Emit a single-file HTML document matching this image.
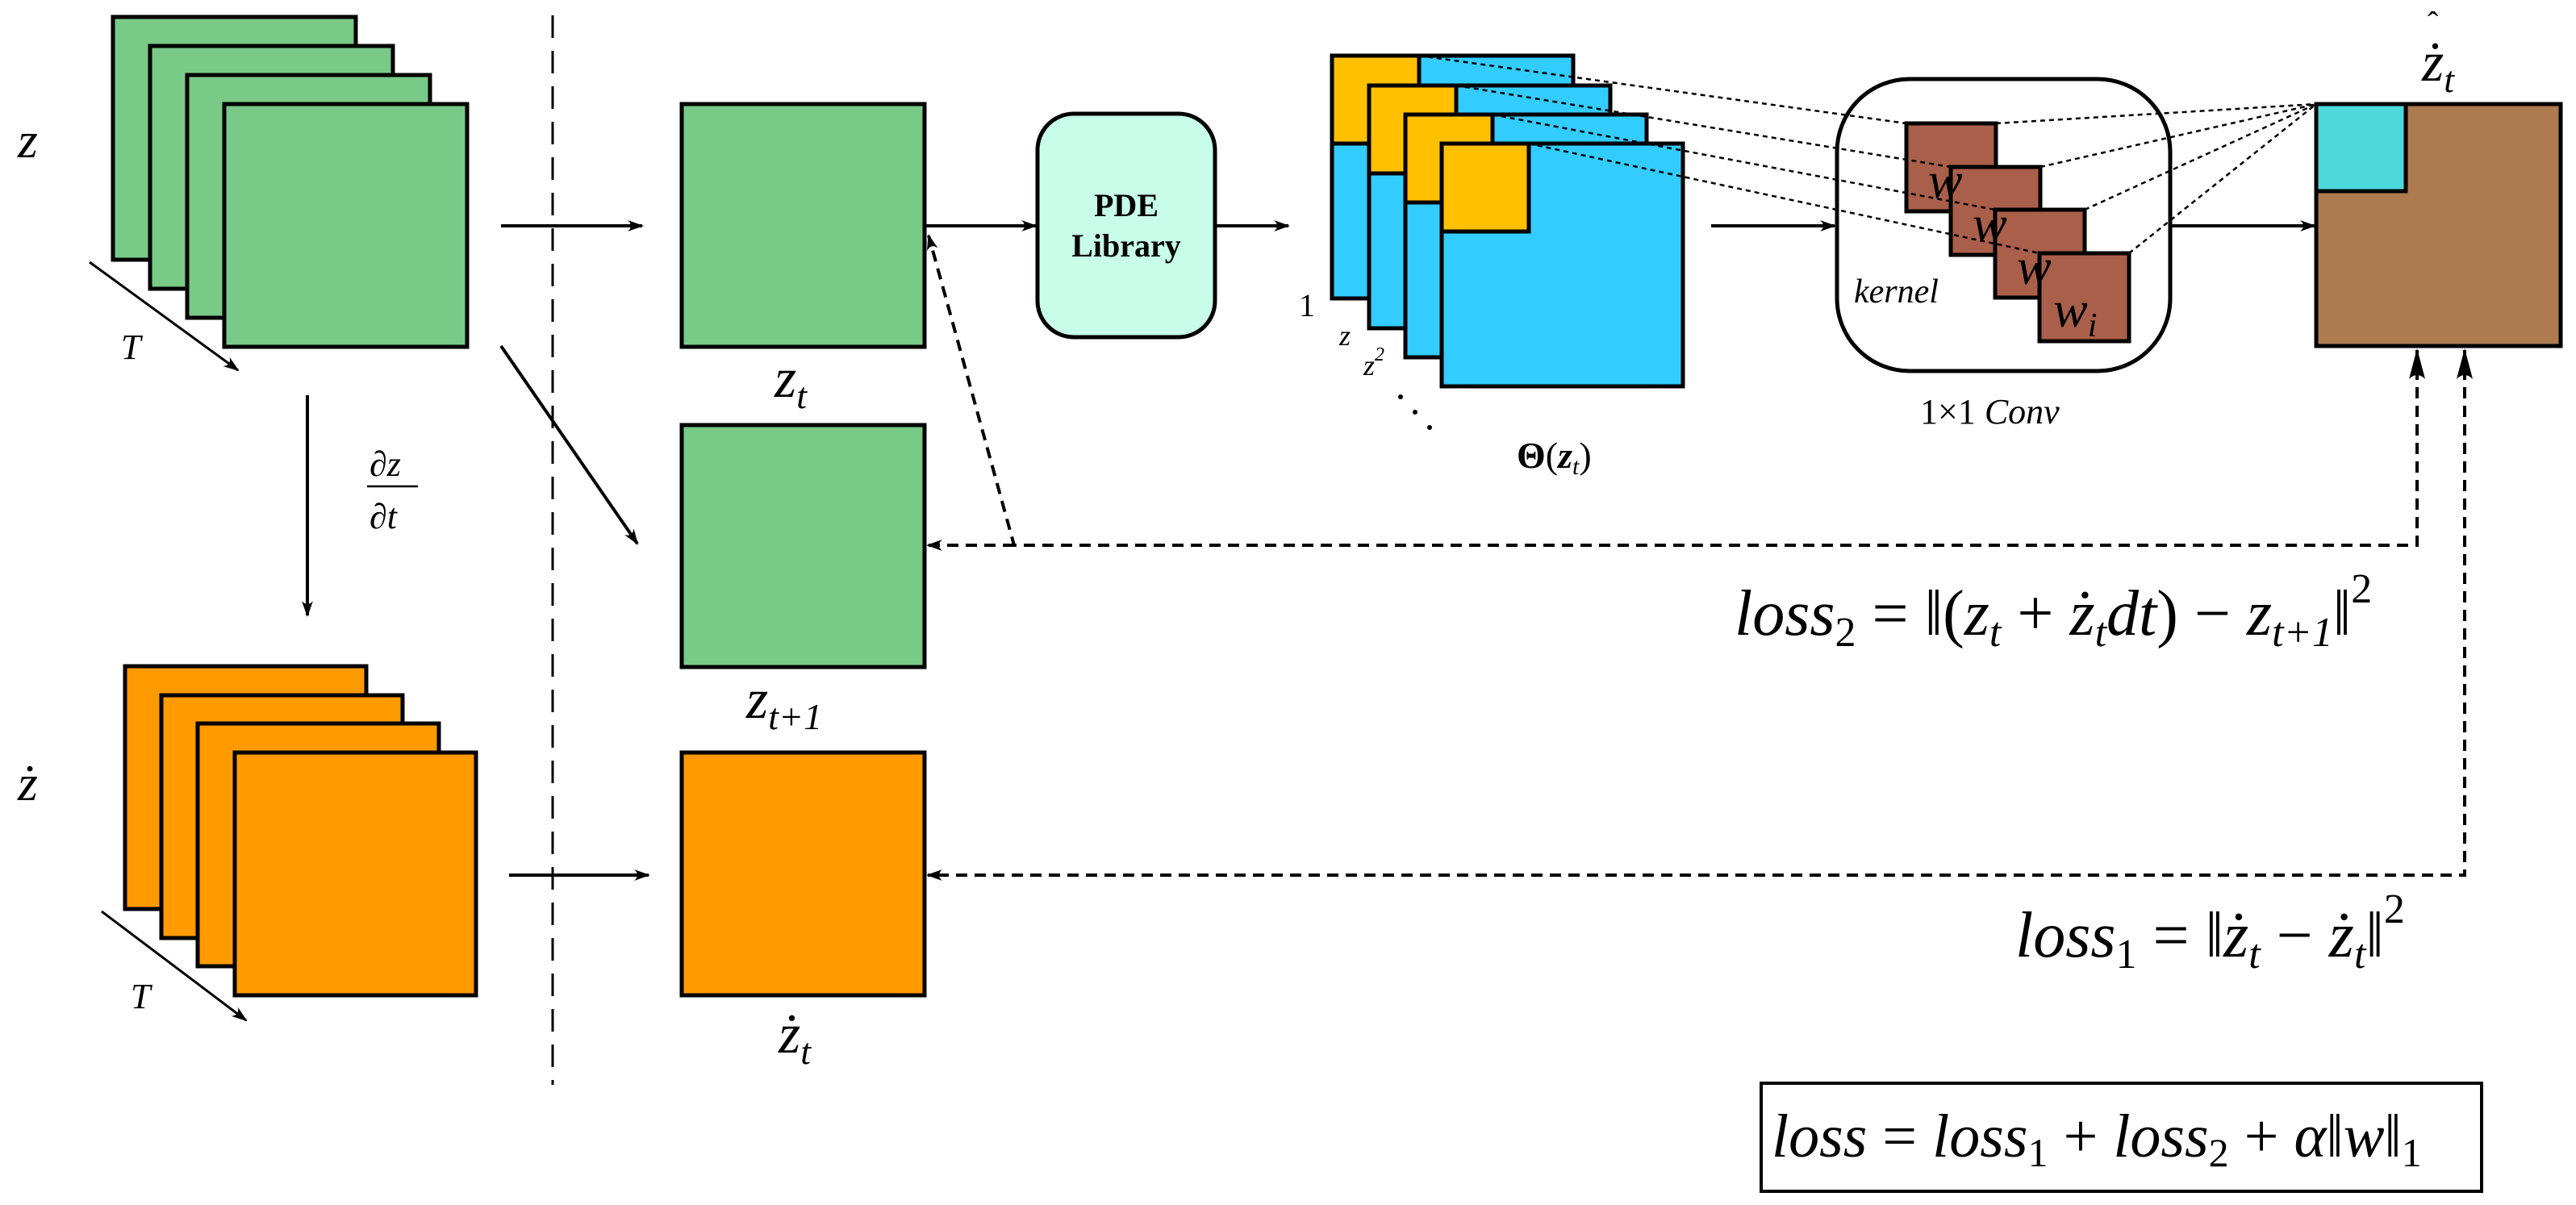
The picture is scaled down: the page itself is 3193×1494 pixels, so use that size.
<!DOCTYPE html>
<html><head><meta charset="utf-8">
<style>
html,body{margin:0;padding:0;background:#fff;}
svg{display:block;}
text{font-family:"Liberation Serif","DejaVu Serif",serif;fill:#000;}
.it{font-style:italic;}
</style></head>
<body>
<svg width="3193" height="1494" viewBox="0 0 3193 1494" xmlns="http://www.w3.org/2000/svg">
<defs>
<marker id="ah" viewBox="0 0 20 14" refX="18" refY="7" markerWidth="20" markerHeight="14" markerUnits="userSpaceOnUse" orient="auto">
<path d="M0,0 Q8,7 0,14 L20,7 Z" fill="#000"/>
</marker>
</defs>
<g stroke="#000" stroke-width="5">
<rect x="140" y="21" width="301" height="301" fill="#79c987"/>
<rect x="186" y="57" width="301" height="301" fill="#79c987"/>
<rect x="232" y="93" width="301" height="301" fill="#79c987"/>
<rect x="278" y="129" width="301" height="301" fill="#79c987"/>
<rect x="155" y="826" width="299" height="301" fill="#ff9a00"/>
<rect x="200" y="862" width="299" height="301" fill="#ff9a00"/>
<rect x="245" y="897" width="299" height="301" fill="#ff9a00"/>
<rect x="291" y="933" width="299" height="301" fill="#ff9a00"/>
<rect x="845" y="129" width="301" height="301" fill="#79c987"/>
<rect x="845" y="527" width="301" height="300" fill="#79c987"/>
<rect x="845" y="933" width="301" height="301" fill="#ff9a00"/>
<rect x="1286" y="141" width="220" height="277" rx="45" fill="#c7fde9"/>
<rect x="1651" y="69" width="299" height="301" fill="#33ccff"/>
<rect x="1651" y="69" width="108" height="109" fill="#ffc000"/>
<rect x="1697" y="106" width="299" height="301" fill="#33ccff"/>
<rect x="1697" y="106" width="108" height="109" fill="#ffc000"/>
<rect x="1742" y="142" width="299" height="301" fill="#33ccff"/>
<rect x="1742" y="142" width="108" height="109" fill="#ffc000"/>
<rect x="1787" y="178" width="299" height="301" fill="#33ccff"/>
<rect x="1787" y="178" width="108" height="109" fill="#ffc000"/>
<rect x="2277" y="98" width="413" height="362" rx="90" fill="#fff"/>
<rect x="2363" y="153" width="111" height="109" fill="#a95f4a"/>
<rect x="2418" y="207" width="111" height="109" fill="#a95f4a"/>
<rect x="2473" y="260" width="111" height="109" fill="#a95f4a"/>
<rect x="2528" y="314" width="111" height="109" fill="#a95f4a"/>
<rect x="2871" y="129" width="303" height="300" fill="#ad7b4f"/>
<rect x="2871" y="129" width="111" height="108" fill="#4dd9dc"/>
<rect x="2183" y="1343" width="893" height="134" fill="none" stroke-width="4"/>
</g>
<text class="it" x="2390" y="245" font-size="64">w</text>
<text class="it" x="2445" y="299" font-size="64">w</text>
<text class="it" x="2500" y="352" font-size="64">w</text>
<text class="it" x="2545" y="405" font-size="64">w<tspan font-size="42" dy="12">i</tspan></text>

<g stroke="#000" stroke-width="2.5" stroke-dasharray="6,5" fill="none">
<line x1="1759" y1="69" x2="2363" y2="153"/>
<line x1="1805" y1="106" x2="2418" y2="207"/>
<line x1="1850" y1="142" x2="2473" y2="260"/>
<line x1="1895" y1="178" x2="2528" y2="314"/>
<line x1="2474" y1="153" x2="2871" y2="129"/>
<line x1="2529" y1="207" x2="2871" y2="129"/>
<line x1="2584" y1="260" x2="2871" y2="129"/>
<line x1="2639" y1="314" x2="2871" y2="129"/>
</g>

<g stroke="#000" stroke-width="4" fill="none" marker-end="url(#ah)">
<line x1="621" y1="280" x2="796" y2="280"/>
<line x1="1146" y1="280" x2="1284" y2="280"/>
<line x1="1506" y1="280" x2="1597" y2="280"/>
<line x1="2121" y1="280" x2="2274" y2="280"/>
<line x1="2690" y1="280" x2="2869" y2="280"/>
<line x1="621" y1="429" x2="790" y2="674"/>
<line x1="381" y1="490" x2="381" y2="763"/>
<line x1="631" y1="1085" x2="804" y2="1085"/>
<line x1="111" y1="325" x2="295" y2="459" stroke-width="3"/>
<line x1="126" y1="1130" x2="305" y2="1265" stroke-width="3"/>
</g>
<line x1="685" y1="19" x2="685" y2="1345" stroke="#000" stroke-width="3" stroke-dasharray="28,16"/>

<g stroke="#000" stroke-width="4" stroke-dasharray="14,9" fill="none">
<polyline points="2996,434 2996,676 1257,676 1151,292" marker-end="url(#ah)"/>
<line x1="1257" y1="676" x2="1150" y2="676" marker-end="url(#ah)"/>
<polyline points="3055,434 3055,1085 1150,1085" marker-end="url(#ah)"/>
</g>
<path d="M2996,432 L2986,470 Q2996,460 3006,470 Z" fill="#000"/>
<path d="M3055,432 L3045,470 Q3055,460 3065,470 Z" fill="#000"/>

<text class="it" x="22" y="195" font-size="64">z</text>
<text class="it" x="150" y="445" font-size="44">T</text>
<text class="it" x="22" y="992" font-size="64">ż</text>
<text class="it" x="162" y="1250" font-size="44">T</text>
<text class="it" x="458" y="590" font-size="44">∂z</text>
<line x1="455" y1="603" x2="518" y2="603" stroke="#000" stroke-width="2.5"/>
<text class="it" x="458" y="655" font-size="44">∂t</text>
<text class="it" x="960" y="492" font-size="70">z<tspan font-size="46" dy="14">t</tspan></text>
<text class="it" x="925" y="890" font-size="70">z<tspan font-size="46" dy="14">t+1</tspan></text>
<text class="it" x="965" y="1305" font-size="70">ż<tspan font-size="46" dy="14">t</tspan></text>
<text x="1396" y="268" font-size="40" font-weight="bold" text-anchor="middle">PDE</text>
<text x="1396" y="318" font-size="40" font-weight="bold" text-anchor="middle">Library</text>
<text x="1610" y="392" font-size="40">1</text>
<text class="it" x="1660" y="428" font-size="36">z</text>
<text class="it" x="1690" y="465" font-size="36">z<tspan font-size="24" dy="-18">2</tspan></text>
<circle cx="1736" cy="492" r="3"/><circle cx="1754" cy="511" r="3"/><circle cx="1772" cy="530" r="3"/>
<text x="1880" y="580" font-size="46" font-weight="bold">Θ<tspan font-weight="normal">(</tspan><tspan class="it">z</tspan><tspan font-size="30" dy="8" font-weight="normal" class="it">t</tspan><tspan font-weight="normal" dy="-8">)</tspan></text>
<text class="it" x="2298" y="375" font-size="42">kernel</text>
<text x="2380" y="525" font-size="44">1×1 <tspan class="it">Conv</tspan></text>
<text class="it" x="3002" y="100" font-size="70">ż<tspan font-size="46" dy="14">t</tspan></text>
<text x="3009" y="42" font-size="40">ˆ</text>

<text class="it" x="2150" y="787" font-size="80">loss<tspan font-size="52" dy="14" font-style="normal">2</tspan><tspan dy="-14" font-style="normal"> = ‖(</tspan>z<tspan font-size="52" dy="14">t</tspan><tspan dy="-14" font-style="normal"> + </tspan><tspan id="zh2">ż</tspan><tspan font-size="52" dy="14">t</tspan><tspan dy="-14">dt</tspan><tspan font-style="normal">) − </tspan>z<tspan font-size="52" dy="14">t+1</tspan><tspan dy="-14" font-style="normal">‖</tspan><tspan font-size="52" dy="-40" font-style="normal">2</tspan></text>
<text class="it" x="2498" y="1186" font-size="80">loss<tspan font-size="52" dy="14" font-style="normal">1</tspan><tspan dy="-14" font-style="normal"> = ‖</tspan>ż<tspan font-size="52" dy="14">t</tspan><tspan dy="-14" font-style="normal"> − </tspan>ż<tspan font-size="52" dy="14">t</tspan><tspan dy="-14" font-style="normal">‖</tspan><tspan font-size="52" dy="-42" font-style="normal">2</tspan></text>
<text class="it" x="2196" y="1434" font-size="76">loss<tspan font-style="normal"> = </tspan>loss<tspan font-size="50" dy="12" font-style="normal">1</tspan><tspan dy="-12" font-style="normal"> + </tspan>loss<tspan font-size="50" dy="12" font-style="normal">2</tspan><tspan dy="-12" font-style="normal"> + </tspan>α<tspan font-style="normal">‖</tspan>w<tspan font-style="normal">‖</tspan><tspan font-size="50" dy="12" font-style="normal">1</tspan></text>
</svg>
</body></html>
